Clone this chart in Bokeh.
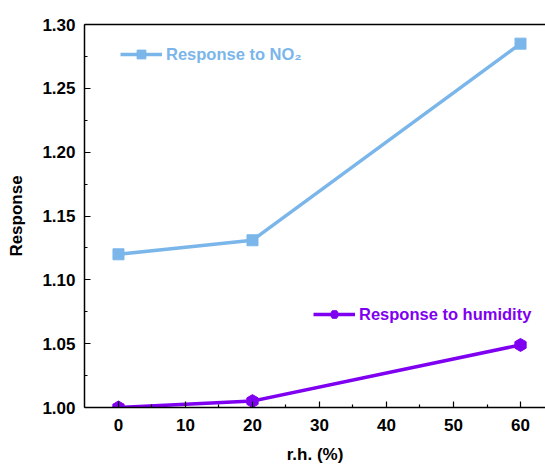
from bokeh.plotting import figure
from bokeh.models import FixedTicker, LinearAxis, Legend, LegendItem, Range1d, PrintfTickFormatter
from bokeh.embed import file_html
from bokeh.resources import INLINE

rh = [0, 20, 60]
resp_no2 = [1.120, 1.131, 1.285]
resp_hum = [1.000, 1.005, 1.049]
x_ticks = [0, 10, 20, 30, 40, 50, 60]
x_minor = [5, 15, 25, 35, 45, 55]
y_ticks = [1.00, 1.05, 1.10, 1.15, 1.20, 1.25, 1.30]
y_minor = [1.025, 1.075, 1.125, 1.175, 1.225, 1.275]

BLUE = "#7AB6EA"
PURPLE = "#7F00F0"
FONT = "Liberation Sans"

p = figure(width=545, height=466, output_backend="svg", toolbar_location=None,
           x_range=Range1d(-5.07, 63.73), y_range=Range1d(1.0, 1.30),
           min_border_left=84, min_border_top=24, min_border_bottom=56, min_border_right=0)
p.outline_line_color = None
p.xgrid.visible = False
p.ygrid.visible = False
p.background_fill_color = "white"

r1l = p.line(rh, resp_no2, line_color=BLUE, line_width=3.5)
r1m = p.scatter(rh, resp_no2, marker="square", size=11, fill_color=BLUE, line_color=BLUE)
r2l = p.line(rh, resp_hum, line_color=PURPLE, line_width=3.5)
r2m = p.scatter(rh, resp_hum, marker="hex", size=13, fill_color=PURPLE, line_color=PURPLE, angle=0.5236)

for ax in (p.xaxis[0], p.yaxis[0]):
    ax.axis_line_width = 1.5
    ax.axis_line_color = "black"
    ax.major_tick_in = 6
    ax.major_tick_out = 0
    ax.minor_tick_in = 3
    ax.minor_tick_out = 0
    ax.major_tick_line_width = 1.2
    ax.minor_tick_line_width = 1.2
    ax.major_label_text_font = FONT
    ax.major_label_text_font_style = "bold"
    ax.major_label_text_font_size = "17px"
    ax.major_label_text_color = "black"
    ax.axis_label_text_font = FONT
    ax.axis_label_text_font_style = "bold"
    ax.axis_label_text_font_size = "17px"
    ax.axis_label_text_color = "black"

p.xaxis.ticker = FixedTicker(ticks=x_ticks, minor_ticks=x_minor)
p.yaxis.ticker = FixedTicker(ticks=y_ticks, minor_ticks=y_minor)
p.yaxis.formatter = PrintfTickFormatter(format="%.2f")
p.xaxis.axis_label = "r.h. (%)"
p.yaxis.axis_label = "Response"
p.xaxis.major_label_standoff = 11
p.xaxis.axis_label_standoff = 11
p.yaxis.major_label_standoff = 9
p.yaxis.axis_label_standoff = 13

top = LinearAxis(ticker=FixedTicker(ticks=[]), axis_line_width=1.5, axis_line_color="black",
                 major_label_text_font_size="0px", major_tick_in=0, major_tick_out=0,
                 minor_tick_in=0, minor_tick_out=0)
p.add_layout(top, "above")

leg1 = Legend(items=[LegendItem(label="Response to NO₂", renderers=[r1l, r1m])],
              location=(36, 342), label_text_color=BLUE, label_text_font=FONT,
              label_text_font_style="bold", label_text_font_size="16.5px",
              glyph_width=42, glyph_height=22, label_standoff=4, padding=0, margin=0,
              border_line_color=None, background_fill_alpha=0)
leg2 = Legend(items=[LegendItem(label="Response to humidity", renderers=[r2l, r2m])],
              location=(229, 82), label_text_color=PURPLE, label_text_font=FONT,
              label_text_font_style="bold", label_text_font_size="16.5px",
              glyph_width=42, glyph_height=22, label_standoff=4, padding=0, margin=0,
              border_line_color=None, background_fill_alpha=0)
p.add_layout(leg1, "center")
p.add_layout(leg2, "center")

open("out.html", "w").write(file_html(p, INLINE))
